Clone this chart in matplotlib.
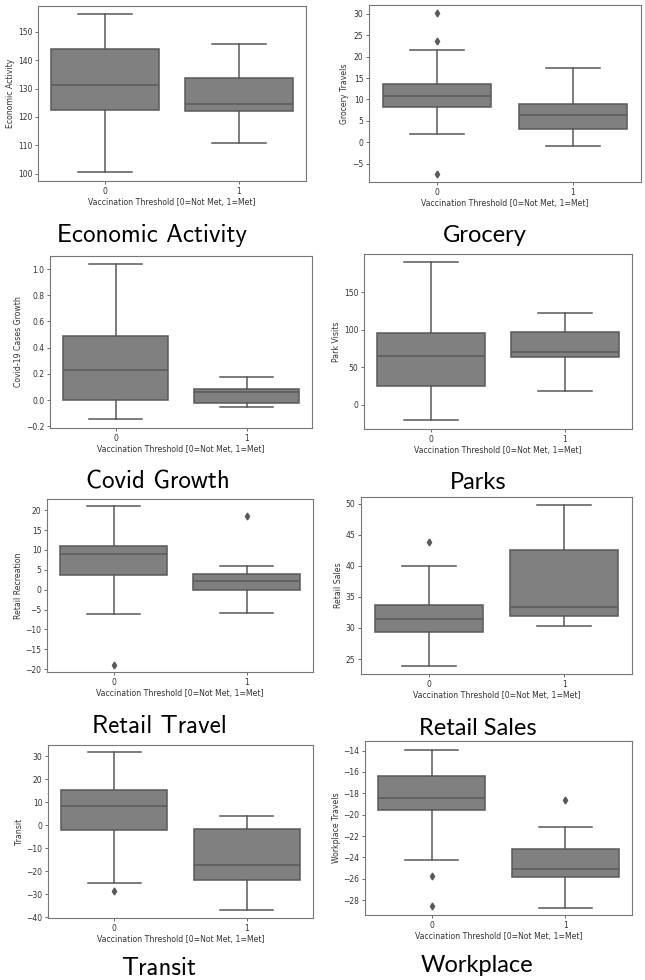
import matplotlib
matplotlib.use("Agg")
import matplotlib.pyplot as plt

# five-number summaries per group [whislo, q1, median, q3, whishi], group 0 then group 1
econ_box = [[100.6, 122.5, 131.1, 143.8, 156.1], [110.7, 122.1, 124.4, 133.6, 145.5]]
econ_fliers = [[], []]
grocery_box = [[2.0, 8.2, 10.9, 13.7, 21.5], [-0.9, 3.1, 6.3, 8.9, 17.3]]
grocery_fliers = [[30.2, 23.7, -7.4], []]
covid_box = [[-0.147, 0.0, 0.226, 0.49, 1.04], [-0.056, -0.02, 0.061, 0.081, 0.173]]
covid_fliers = [[], []]
parks_box = [[-20.4, 25.3, 64.4, 95.0, 190.0], [17.8, 63.0, 69.7, 96.3, 122.0]]
parks_fliers = [[], []]
recreation_box = [[-6.1, 3.7, 8.9, 10.9, 21.0], [-5.9, -0.2, 2.3, 3.9, 5.9]]
recreation_fliers = [[-18.9], [18.6]]
sales_box = [[23.9, 29.4, 31.4, 33.7, 40.0], [30.4, 31.9, 33.4, 42.5, 49.8]]
sales_fliers = [[43.9], []]
transit_box = [[-25.2, -2.1, 8.4, 15.3, 31.6], [-37.1, -23.9, -17.2, -1.8, 3.9]]
transit_fliers = [[-28.5], []]
work_box = [[-24.25, -19.6, -18.4, -16.4, -13.94], [-28.7, -25.8, -25.1, -23.2, -21.2]]
work_fliers = [[-25.7, -28.53], [-18.6]]

groups = ["0", "1"]
x_title = "Vaccination Threshold [0=Not Met, 1=Met]"

W, H = 645, 980
fig = plt.figure(figsize=(W / 100, H / 100), dpi=100)

# (summaries, fliers, ylabel, caption, axes px [l, t, r, b], ylim, yticks, caption px (x, y), caption font, size)
panels = [
    (econ_box, econ_fliers, "Economic Activity", "Economic Activity",
     [38, 6, 306, 181], (97.5, 159.0), range(100, 151, 10), (152, 242), "cmss10", 18),
    (grocery_box, grocery_fliers, "Grocery Travels", "Grocery",
     [369, 5, 641, 182], (-9.3, 32.1), range(-5, 31, 5), (485, 242), "Lato", 17),
    (covid_box, covid_fliers, "Covid-19 Cases Growth", "Covid Growth",
     [50, 256, 312, 428], (-0.213, 1.10), [-0.2, 0.0, 0.2, 0.4, 0.6, 0.8, 1.0], (158, 488), "cmss10", 18),
    (parks_box, parks_fliers, "Park Visits", "Parks",
     [364, 254, 632, 429], (-32.4, 200.6), range(0, 151, 50), (478, 489), "Lato", 17),
    (recreation_box, recreation_fliers, "Retail Recreation", "Retail Travel",
     [47, 499, 313, 672], (-20.7, 22.8), range(-20, 21, 5), (159, 733), "cmss10", 18),
    (sales_box, sales_fliers, "Retail Sales", "Retail Sales",
     [361, 497, 632, 674], (22.6, 51.07), range(25, 51, 5), (478, 735), "Lato", 17),
    (transit_box, transit_fliers, "Transit", "Transit",
     [48, 745, 313, 918], (-40.4, 34.8), range(-40, 31, 10), (159, 975), "cmss10", 18),
    (work_box, work_fliers, "Workplace Travels", "Workplace",
     [365, 741, 632, 915], (-29.4, -13.1), range(-28, -13, 2), (477, 972), "Lato", 17),
]

box_face = "#808080"
line_col = "#595959"

for summ, fl, ylab, cap, px, ylim, yticks, cpos, cfont, csize in panels:
    l, t, r, b = px
    ax = fig.add_axes([l / W, 1 - b / H, (r - l) / W, (b - t) / H])
    stats = []
    for i, s in enumerate(summ):
        stats.append(dict(whislo=s[0], q1=s[1], med=s[2], q3=s[3], whishi=s[4],
                          fliers=fl[i], label=groups[i]))
    ax.bxp(stats, positions=[0, 1], widths=0.8, patch_artist=True,
           boxprops=dict(facecolor=box_face, edgecolor=line_col, linewidth=1.1),
           medianprops=dict(color=line_col, linewidth=1.1),
           whiskerprops=dict(color=line_col, linewidth=1.1),
           capprops=dict(color=line_col, linewidth=1.1),
           flierprops=dict(marker="d", markersize=3.5, markerfacecolor=line_col,
                           markeredgecolor=line_col))
    ax.set_xlim(-0.5, 1.5)
    ax.set_ylim(*ylim)
    ax.set_yticks(list(yticks))
    ax.set_xticks([0, 1])
    ax.set_xticklabels(groups)
    ax.tick_params(labelsize=5.5, length=2, width=0.5, colors="#333333", pad=2)
    ax.set_ylabel(ylab, fontsize=5.6, color="#333333", labelpad=2)
    ax.set_xlabel(x_title, fontsize=5.6, color="#333333", labelpad=2)
    for sp in ax.spines.values():
        sp.set_color("#777777")
        sp.set_linewidth(0.8)
    fig.text(cpos[0] / W, 1 - cpos[1] / H, cap, ha="center", va="baseline",
             fontsize=csize, family=cfont, color="black")

fig.savefig("out.png", dpi=100)
